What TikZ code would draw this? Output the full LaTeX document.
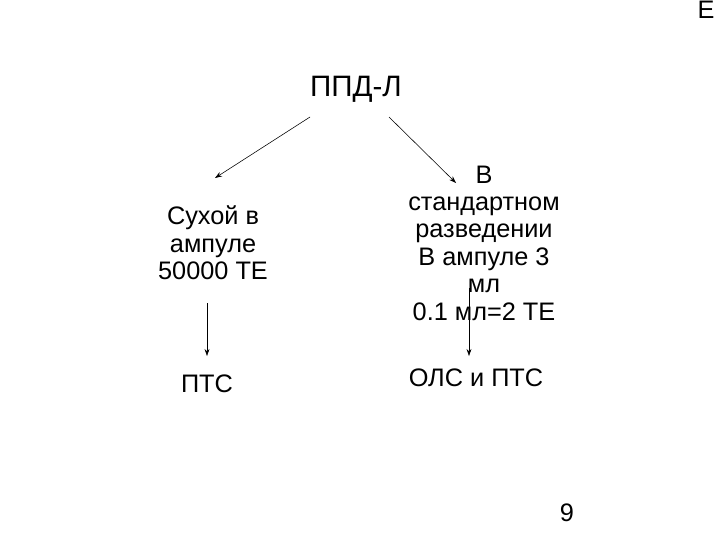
\documentclass[tikz,border=0pt]{standalone}
\usepackage{fontspec}
\setmainfont{Liberation Sans}
\usetikzlibrary{arrows.meta}

\begin{document}
\begin{tikzpicture}[x=0.025cm, y=-0.025cm, >={Stealth[length=5pt,width=3.5pt]}]
    \useasboundingbox (0,0) rectangle (720,540);
    \tikzset{txt/.style={align=center, font=\fontsize{18}{19.5}\selectfont, inner sep=0pt}}
    % Title
    \node[font=\fontsize{21}{25}\selectfont] (ppd) at (356,89) {ППД-Л};
    % The two forms
    \node[txt] (dry) at (213,243) {Сухой в\\ампуле\\50000 ТЕ};
    \node[txt] (std) at (484,243) {В\\стандартном\\разведении\\В ампуле 3\\мл\\0.1 мл=2 ТЕ};
    % Results
    \node[txt] (pts) at (207,384) {ПТС};
    \node[txt] (ols) at (476,378) {ОЛС и ПТС};
    % Page marks
    \node[txt] (pg) at (567,513) {9};
    \node[txt] (ee) at (706,10) {Е};
    % Arrows
    \coordinate (a1) at (310,117);
    \coordinate (a2) at (389,117);
    \coordinate (b1) at (207,303);
    \coordinate (b2) at (469,288);
    \draw[->, thin] (a1) -- (215,178);
    \draw[->, thin] (a2) -- (456,183);
    \draw[->, thin] (b1) -- (b1 |- 0,356);
    \draw[->, thin] (b2) -- (b2 |- 0,356);
\end{tikzpicture}
\end{document}
